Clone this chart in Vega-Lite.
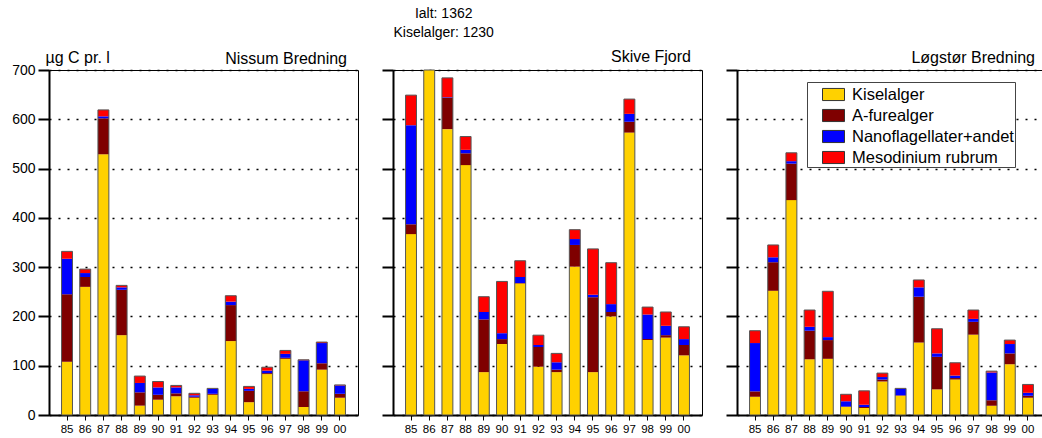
{
  "$schema": "https://vega.github.io/schema/vega-lite/v6.json",
  "padding": {"left": 11, "top": 6, "right": 0, "bottom": 0},
  "spacing": 21,
  "config": {
    "font": "Liberation Sans",
    "view": {"stroke": "black", "strokeWidth": 1},
    "axis": {"domainColor": "black", "tickColor": "black", "labelColor": "black", "titleColor": "black"},
    "title": {"fontSize": 16, "fontWeight": "normal", "anchor": "end", "baseline": "alphabetic", "dx": -11, "color": "black"}
  },
  "datasets": {
    "alger": [
      {"station": "Nissum Bredning", "year": "85", "Kiselalger": 108, "A-furealger": 137, "Nanoflagellater+andet": 72, "Mesodinium rubrum": 15},
      {"station": "Nissum Bredning", "year": "86", "Kiselalger": 260, "A-furealger": 20, "Nanoflagellater+andet": 8, "Mesodinium rubrum": 8},
      {"station": "Nissum Bredning", "year": "87", "Kiselalger": 529, "A-furealger": 73, "Nanoflagellater+andet": 4, "Mesodinium rubrum": 13},
      {"station": "Nissum Bredning", "year": "88", "Kiselalger": 162, "A-furealger": 92, "Nanoflagellater+andet": 5, "Mesodinium rubrum": 4},
      {"station": "Nissum Bredning", "year": "89", "Kiselalger": 19, "A-furealger": 27, "Nanoflagellater+andet": 19, "Mesodinium rubrum": 14},
      {"station": "Nissum Bredning", "year": "90", "Kiselalger": 31, "A-furealger": 10, "Nanoflagellater+andet": 15, "Mesodinium rubrum": 12},
      {"station": "Nissum Bredning", "year": "91", "Kiselalger": 38, "A-furealger": 6, "Nanoflagellater+andet": 12, "Mesodinium rubrum": 4},
      {"station": "Nissum Bredning", "year": "92", "Kiselalger": 35, "A-furealger": 2, "Nanoflagellater+andet": 3, "Mesodinium rubrum": 4},
      {"station": "Nissum Bredning", "year": "93", "Kiselalger": 41, "A-furealger": 2, "Nanoflagellater+andet": 10, "Mesodinium rubrum": 1},
      {"station": "Nissum Bredning", "year": "94", "Kiselalger": 150, "A-furealger": 73, "Nanoflagellater+andet": 7, "Mesodinium rubrum": 12},
      {"station": "Nissum Bredning", "year": "95", "Kiselalger": 26, "A-furealger": 23, "Nanoflagellater+andet": 4, "Mesodinium rubrum": 5},
      {"station": "Nissum Bredning", "year": "96", "Kiselalger": 83, "A-furealger": 2, "Nanoflagellater+andet": 5, "Mesodinium rubrum": 7},
      {"station": "Nissum Bredning", "year": "97", "Kiselalger": 114, "A-furealger": 2, "Nanoflagellater+andet": 8, "Mesodinium rubrum": 7},
      {"station": "Nissum Bredning", "year": "98", "Kiselalger": 16, "A-furealger": 32, "Nanoflagellater+andet": 63, "Mesodinium rubrum": 1},
      {"station": "Nissum Bredning", "year": "99", "Kiselalger": 92, "A-furealger": 13, "Nanoflagellater+andet": 41, "Mesodinium rubrum": 2},
      {"station": "Nissum Bredning", "year": "00", "Kiselalger": 35, "A-furealger": 8, "Nanoflagellater+andet": 17, "Mesodinium rubrum": 1},
      {"station": "Skive Fjord", "year": "85", "Kiselalger": 367, "A-furealger": 20, "Nanoflagellater+andet": 201, "Mesodinium rubrum": 61},
      {"station": "Skive Fjord", "year": "86", "Kiselalger": 1230, "A-furealger": 70, "Nanoflagellater+andet": 20, "Mesodinium rubrum": 42},
      {"station": "Skive Fjord", "year": "87", "Kiselalger": 580, "A-furealger": 64, "Nanoflagellater+andet": 1, "Mesodinium rubrum": 39},
      {"station": "Skive Fjord", "year": "88", "Kiselalger": 507, "A-furealger": 24, "Nanoflagellater+andet": 7, "Mesodinium rubrum": 27},
      {"station": "Skive Fjord", "year": "89", "Kiselalger": 87, "A-furealger": 107, "Nanoflagellater+andet": 15, "Mesodinium rubrum": 31},
      {"station": "Skive Fjord", "year": "90", "Kiselalger": 144, "A-furealger": 10, "Nanoflagellater+andet": 12, "Mesodinium rubrum": 105},
      {"station": "Skive Fjord", "year": "91", "Kiselalger": 267, "A-furealger": 1, "Nanoflagellater+andet": 12, "Mesodinium rubrum": 33},
      {"station": "Skive Fjord", "year": "92", "Kiselalger": 98, "A-furealger": 40, "Nanoflagellater+andet": 4, "Mesodinium rubrum": 20},
      {"station": "Skive Fjord", "year": "93", "Kiselalger": 87, "A-furealger": 5, "Nanoflagellater+andet": 15, "Mesodinium rubrum": 18},
      {"station": "Skive Fjord", "year": "94", "Kiselalger": 301, "A-furealger": 44, "Nanoflagellater+andet": 12, "Mesodinium rubrum": 19},
      {"station": "Skive Fjord", "year": "95", "Kiselalger": 87, "A-furealger": 152, "Nanoflagellater+andet": 5, "Mesodinium rubrum": 93},
      {"station": "Skive Fjord", "year": "96", "Kiselalger": 200, "A-furealger": 9, "Nanoflagellater+andet": 16, "Mesodinium rubrum": 84},
      {"station": "Skive Fjord", "year": "97", "Kiselalger": 573, "A-furealger": 22, "Nanoflagellater+andet": 16, "Mesodinium rubrum": 30},
      {"station": "Skive Fjord", "year": "98", "Kiselalger": 152, "A-furealger": 2, "Nanoflagellater+andet": 50, "Mesodinium rubrum": 15},
      {"station": "Skive Fjord", "year": "99", "Kiselalger": 157, "A-furealger": 5, "Nanoflagellater+andet": 19, "Mesodinium rubrum": 28},
      {"station": "Skive Fjord", "year": "00", "Kiselalger": 121, "A-furealger": 21, "Nanoflagellater+andet": 12, "Mesodinium rubrum": 25},
      {"station": "Løgstør Bredning", "year": "85", "Kiselalger": 37, "A-furealger": 11, "Nanoflagellater+andet": 98, "Mesodinium rubrum": 25},
      {"station": "Løgstør Bredning", "year": "86", "Kiselalger": 252, "A-furealger": 58, "Nanoflagellater+andet": 10, "Mesodinium rubrum": 25},
      {"station": "Løgstør Bredning", "year": "87", "Kiselalger": 436, "A-furealger": 74, "Nanoflagellater+andet": 5, "Mesodinium rubrum": 17},
      {"station": "Løgstør Bredning", "year": "88", "Kiselalger": 113, "A-furealger": 58, "Nanoflagellater+andet": 8, "Mesodinium rubrum": 34},
      {"station": "Løgstør Bredning", "year": "89", "Kiselalger": 114, "A-furealger": 38, "Nanoflagellater+andet": 6, "Mesodinium rubrum": 93},
      {"station": "Løgstør Bredning", "year": "90", "Kiselalger": 16, "A-furealger": 1, "Nanoflagellater+andet": 11, "Mesodinium rubrum": 14},
      {"station": "Løgstør Bredning", "year": "91", "Kiselalger": 14, "A-furealger": 2, "Nanoflagellater+andet": 5, "Mesodinium rubrum": 28},
      {"station": "Løgstør Bredning", "year": "92", "Kiselalger": 68, "A-furealger": 4, "Nanoflagellater+andet": 5, "Mesodinium rubrum": 8},
      {"station": "Løgstør Bredning", "year": "93", "Kiselalger": 39, "A-furealger": 1, "Nanoflagellater+andet": 13, "Mesodinium rubrum": 1},
      {"station": "Løgstør Bredning", "year": "94", "Kiselalger": 147, "A-furealger": 93, "Nanoflagellater+andet": 19, "Mesodinium rubrum": 15},
      {"station": "Løgstør Bredning", "year": "95", "Kiselalger": 52, "A-furealger": 66, "Nanoflagellater+andet": 7, "Mesodinium rubrum": 50},
      {"station": "Løgstør Bredning", "year": "96", "Kiselalger": 72, "A-furealger": 3, "Nanoflagellater+andet": 5, "Mesodinium rubrum": 26},
      {"station": "Løgstør Bredning", "year": "97", "Kiselalger": 163, "A-furealger": 26, "Nanoflagellater+andet": 6, "Mesodinium rubrum": 18},
      {"station": "Løgstør Bredning", "year": "98", "Kiselalger": 19, "A-furealger": 11, "Nanoflagellater+andet": 56, "Mesodinium rubrum": 3},
      {"station": "Løgstør Bredning", "year": "99", "Kiselalger": 103, "A-furealger": 22, "Nanoflagellater+andet": 19, "Mesodinium rubrum": 8},
      {"station": "Løgstør Bredning", "year": "00", "Kiselalger": 35, "A-furealger": 4, "Nanoflagellater+andet": 6, "Mesodinium rubrum": 17}
    ]
  },
  "data": {"name": "alger"},
  "resolve": {"legend": {"color": "independent"}},
  "hconcat": [
    {
      "width": 309,
      "height": 345,
      "title": {"text": "Nissum Bredning", "offset": -18.3},
      "transform": [
        {"filter": "datum.station == 'Nissum Bredning'"},
        {"fold": ["Kiselalger", "A-furealger", "Nanoflagellater+andet", "Mesodinium rubrum"], "as": ["gruppe", "biomasse"]},
        {"calculate": "indexof(['Kiselalger','A-furealger','Nanoflagellater+andet','Mesodinium rubrum'], datum.gruppe)", "as": "rang"}
      ],
      "layer": [
        {
          "mark": {"type": "bar"},
          "encoding": {
            "x": {"field": "year", "type": "ordinal", "sort": ["85","86","87","88","89","90","91","92","93","94","95","96","97","98","99","00"], "title": null,
                  "scale": {"paddingInner": 0.4, "paddingOuter": 0.69},
                  "axis": {"labelAngle": 0, "labelFontSize": 11.5, "labelPadding": 3, "tickSize": 5, "tickWidth": 1, "domainWidth": 2}},
            "y": {"field": "biomasse", "type": "quantitative", "title": "µg C pr. l",
                  "scale": {"domain": [0, 700]},
                  "axis": {"values": [0,100,200,300,400,500,600,700], "labelFontSize": 14, "labelPadding": 3, "tickSize": 11, "tickWidth": 2, "domainWidth": 2,
                           "grid": true, "gridColor": "black", "gridDash": [2, 7], "gridWidth": 1.5,
                           "titleAngle": 0, "titleAlign": "left", "titleBaseline": "alphabetic", "titleX": -4, "titleY": -8, "titleFontSize": 16, "titleFontWeight": "normal"}},
            "color": {"field": "gruppe", "type": "nominal", "legend": null,
                      "scale": {"domain": ["Kiselalger", "A-furealger", "Nanoflagellater+andet", "Mesodinium rubrum"], "range": ["#FFD100", "#7F0000", "#0000FF", "#FF0000"]}},
            "order": {"field": "rang", "type": "quantitative"}
          }
        },
        {
          "mark": {"type": "bar", "fillOpacity": 0, "stroke": "#555555", "strokeWidth": 1},
          "encoding": {
            "x": {"field": "year", "type": "ordinal", "sort": ["85","86","87","88","89","90","91","92","93","94","95","96","97","98","99","00"], "title": null},
            "y": {"aggregate": "sum", "field": "biomasse", "type": "quantitative", "title": "µg C pr. l"}
          }
        }
      ]
    },
    {
      "width": 309,
      "height": 345,
      "title": {"text": "Skive Fjord", "offset": -58},
      "transform": [
        {"filter": "datum.station == 'Skive Fjord'"},
        {"fold": ["Kiselalger", "A-furealger", "Nanoflagellater+andet", "Mesodinium rubrum"], "as": ["gruppe", "biomasse"]},
        {"calculate": "indexof(['Kiselalger','A-furealger','Nanoflagellater+andet','Mesodinium rubrum'], datum.gruppe)", "as": "rang"}
      ],
      "layer": [
        {
          "mark": {"type": "bar"},
          "encoding": {
            "x": {"field": "year", "type": "ordinal", "sort": ["85","86","87","88","89","90","91","92","93","94","95","96","97","98","99","00"], "title": null,
                  "scale": {"paddingInner": 0.4, "paddingOuter": 0.69},
                  "axis": {"labelAngle": 0, "labelFontSize": 11.5, "labelPadding": 3, "tickSize": 5, "tickWidth": 1, "domainWidth": 2}},
            "y": {"field": "biomasse", "type": "quantitative", "title": null,
                  "scale": {"domain": [0, 700], "clamp": true},
                  "axis": {"values": [0,100,200,300,400,500,600,700], "labels": false, "tickSize": 11, "tickWidth": 2, "domainWidth": 2,
                           "grid": true, "gridColor": "black", "gridDash": [2, 7], "gridWidth": 1.5}},
            "color": {"field": "gruppe", "type": "nominal", "legend": null,
                      "scale": {"domain": ["Kiselalger", "A-furealger", "Nanoflagellater+andet", "Mesodinium rubrum"], "range": ["#FFD100", "#7F0000", "#0000FF", "#FF0000"]}},
            "order": {"field": "rang", "type": "quantitative"}
          }
        },
        {
          "mark": {"type": "bar", "fillOpacity": 0, "stroke": "#555555", "strokeWidth": 1},
          "encoding": {
            "x": {"field": "year", "type": "ordinal", "sort": ["85","86","87","88","89","90","91","92","93","94","95","96","97","98","99","00"], "title": null},
            "y": {"aggregate": "sum", "field": "biomasse", "type": "quantitative", "title": null}
          }
        },
        {
          "transform": [
            {"filter": "datum.year == '86' && datum.gruppe == 'Kiselalger'"},
            {"calculate": "datum.Kiselalger + datum['A-furealger'] + datum['Nanoflagellater+andet'] + datum['Mesodinium rubrum']", "as": "ialt"},
            {"calculate": "['Ialt: ' + datum.ialt, 'Kiselalger: ' + datum.Kiselalger]", "as": "note"}
          ],
          "mark": {"type": "text", "fontSize": 14, "align": "center", "baseline": "alphabetic", "lineHeight": 19, "dx": 14.5, "dy": -52},
          "encoding": {
            "x": {"field": "year", "type": "ordinal", "sort": ["85","86","87","88","89","90","91","92","93","94","95","96","97","98","99","00"], "title": null},
            "y": {"field": "ialt", "type": "quantitative", "title": null},
            "text": {"field": "note"}
          }
        }
      ]
    },
    {
      "width": 309,
      "height": 345,
      "title": {"text": "Løgstør Bredning", "offset": 2.7},
      "transform": [
        {"filter": "datum.station == 'Løgstør Bredning'"},
        {"fold": ["Kiselalger", "A-furealger", "Nanoflagellater+andet", "Mesodinium rubrum"], "as": ["gruppe", "biomasse"]},
        {"calculate": "indexof(['Kiselalger','A-furealger','Nanoflagellater+andet','Mesodinium rubrum'], datum.gruppe)", "as": "rang"}
      ],
      "layer": [
        {
          "mark": {"type": "bar"},
          "encoding": {
            "x": {"field": "year", "type": "ordinal", "sort": ["85","86","87","88","89","90","91","92","93","94","95","96","97","98","99","00"], "title": null,
                  "scale": {"paddingInner": 0.4, "paddingOuter": 0.69},
                  "axis": {"labelAngle": 0, "labelFontSize": 11.5, "labelPadding": 3, "tickSize": 5, "tickWidth": 1, "domainWidth": 2}},
            "y": {"field": "biomasse", "type": "quantitative", "title": null,
                  "scale": {"domain": [0, 700]},
                  "axis": {"values": [0,100,200,300,400,500,600,700], "labels": false, "tickSize": 11, "tickWidth": 2, "domainWidth": 2,
                           "grid": true, "gridColor": "black", "gridDash": [2, 7], "gridWidth": 1.5}},
            "color": {"field": "gruppe", "type": "nominal",
                      "scale": {"domain": ["Kiselalger", "A-furealger", "Nanoflagellater+andet", "Mesodinium rubrum"], "range": ["#FFD100", "#7F0000", "#0000FF", "#FF0000"]},
                      "legend": {"orient": "none", "legendX": 70, "legendY": 12, "title": null, "labelFontSize": 16.5, "labelColor": "black", "labelLimit": 400,
                                 "symbolType": "M-1,-0.55H1V0.55H-1Z", "symbolSize": 484, "symbolStrokeColor": "#333333", "symbolStrokeWidth": 1,
                                 "strokeColor": "#444444", "fillColor": "white", "padding": 1, "symbolOffset": 14, "labelOffset": 7, "rowPadding": 1}},
            "order": {"field": "rang", "type": "quantitative"}
          }
        },
        {
          "mark": {"type": "bar", "fillOpacity": 0, "stroke": "#555555", "strokeWidth": 1},
          "encoding": {
            "x": {"field": "year", "type": "ordinal", "sort": ["85","86","87","88","89","90","91","92","93","94","95","96","97","98","99","00"], "title": null},
            "y": {"aggregate": "sum", "field": "biomasse", "type": "quantitative", "title": null}
          }
        }
      ]
    }
  ]
}
